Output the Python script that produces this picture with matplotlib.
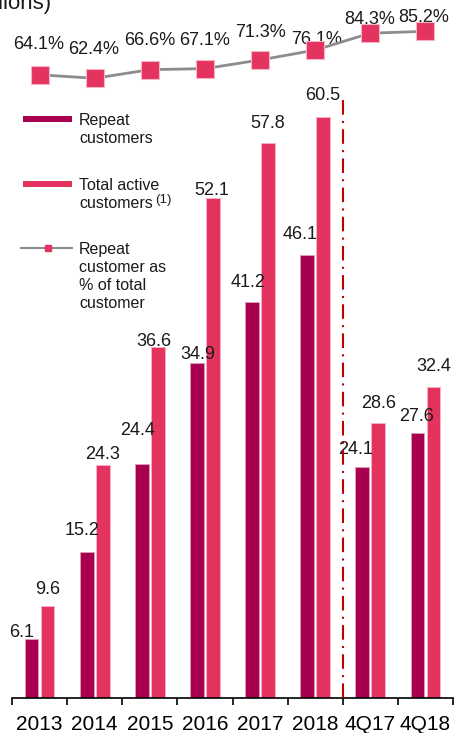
import matplotlib.pyplot as plt
import numpy as np
from matplotlib.lines import Line2D

plt.rcParams['font.family'] = ['Liberation Sans', 'DejaVu Sans']

periods = ['2013', '2014', '2015', '2016', '2017', '2018', '4Q17', '4Q18']
repeat = [6.1, 15.2, 24.4, 34.9, 41.2, 46.1, 24.1, 27.6]
total = [9.6, 24.3, 36.6, 52.1, 57.8, 60.5, 28.6, 32.4]
pct = [64.1, 62.4, 66.6, 67.1, 71.3, 76.1, 84.3, 85.2]

dark = '#A8004F'
pink = '#E4335E'

# label nudges in pixels (dx, dy of text centre from bar top / marker)
rep_off = [(-10, -9), (-5, -23), (-4, -35), (1, -10), (-4, -22), (-7, -23), (-7, -19), (-1, -18)]
tot_off = [(0, -18), (0, -12), (-4, -7), (-1, -9), (0, -22), (0, -24), (0, -22), (0, -22)]
pct_off = [(-1, -32), (-1, -31), (0, -31), (0, -30), (0, -29), (1, -12), (-1, -16), (-2, -16)]

W, H = 454, 733
fig = plt.figure(figsize=(W / 100, H / 100), dpi=100)
ax = fig.add_axes([12 / W, (H - 698) / H, 441 / W, 698 / H])
ax.set_xlim(-0.5, 7.5)
ax.set_ylim(0, 698 / 9.6)

x = np.arange(len(periods))
bw = 0.25
ax.bar(x - 0.145, repeat, bw, color=dark, edgecolor='#D9A0B8', linewidth=0.6, zorder=2)
ax.bar(x + 0.145, total, bw, color=pink, edgecolor='#F7B3C6', linewidth=0.6, zorder=2)

px2pt = 0.72
for i in range(len(periods)):
    dx, dy = rep_off[i]
    ax.annotate(f'{repeat[i]:.1f}', (x[i] - 0.145, repeat[i]),
                xytext=(dx * px2pt, -(dy + 6.4) * px2pt), textcoords='offset points',
                ha='center', va='baseline', fontsize=13, color='#1a1a1a')
    dx, dy = tot_off[i]
    ax.annotate(f'{total[i]:.1f}', (x[i] + 0.145, total[i]),
                xytext=(dx * px2pt, -(dy + 6.4) * px2pt), textcoords='offset points',
                ha='center', va='baseline', fontsize=13, color='#1a1a1a')

# separator between yearly and quarterly
ax.plot([5.5, 5.5], [0, 62.3], color='#C00000', lw=1.5,
        linestyle=(0, (7, 3, 1, 3)), zorder=3)

for s in ['top', 'left', 'right']:
    ax.spines[s].set_visible(False)
ax.spines['bottom'].set_linewidth(1.2)
ax.set_yticks([])
ax.set_xticks(x)
ax.set_xticklabels(periods, fontsize=15)
ax.tick_params(axis='x', which='major', length=0, pad=12)
ax.set_xticks(np.arange(-0.5, 8.0, 1.0), minor=True)
ax.tick_params(axis='x', which='minor', length=5, width=1.2, direction='out')

ax2 = ax.twinx()
ax2.set_ylim(62.4 - (698 - 78.3) / 2.06, 62.4 + 78.3 / 2.06)
ax2.plot(x, pct, color='#8C8C8C', lw=2, marker='s', markersize=12.5,
         markerfacecolor=pink, markeredgecolor='#F7B3C6', markeredgewidth=0.8, zorder=4)
for i in range(len(periods)):
    dx, dy = pct_off[i]
    ax2.annotate(f'{pct[i]:.1f}%', (x[i], pct[i]),
                 xytext=(dx * px2pt, -(dy + 6.4) * px2pt), textcoords='offset points',
                 ha='center', va='baseline', fontsize=13, color='#1a1a1a')
ax2.axis('off')

# legend + cut-off heading drawn on a full-figure overlay
ov = fig.add_axes([0, 0, 1, 1], zorder=10)
ov.set_xlim(0, W)
ov.set_ylim(H, 0)
ov.axis('off')
ov.add_line(Line2D([23, 72], [119, 119], color=dark, lw=4.3, solid_capstyle='butt'))
ov.add_line(Line2D([23, 72], [184, 184], color=pink, lw=4.3, solid_capstyle='butt'))
ov.add_line(Line2D([21, 72], [248, 248], color='#8C8C8C', lw=1.5))
ov.plot([47.5], [248], marker='s', markersize=4.5, color=pink)

leg_lines = [('Repeat', 119), ('customers', 137), ('Total active', 184), ('customers', 202),
             ('Repeat', 248), ('customer as', 266), ('% of total', 284), ('customer', 302)]
for txt, yc in leg_lines:
    ov.text(79, yc + 5.8, txt, fontsize=11.5, va='baseline', ha='left', color='#1a1a1a')
ov.text(155, 198 + 4.5, '(1)', fontsize=9.5, va='baseline', ha='left', color='#1a1a1a')

ov.text(52, 9, '(millions)', fontsize=16, va='baseline', ha='right', color='#1a1a1a')

fig.savefig('out.png', dpi=100)
